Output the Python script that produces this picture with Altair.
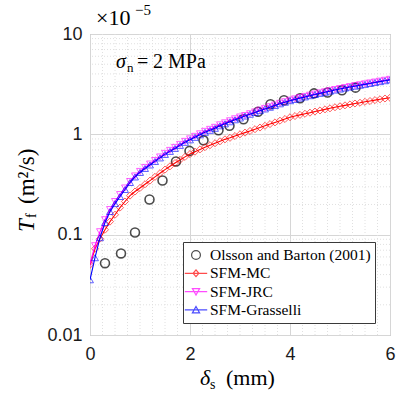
import altair as alt
import pandas as pd

# ---------------- data ----------------
x_model = [i / 10 for i in range(61)]  # model sample positions, 0.1 mm apart

mc = [0.0501, 0.0724, 0.0912, 0.112, 0.135, 0.158, 0.186, 0.214, 0.245, 0.269,
      0.292, 0.318, 0.346, 0.377, 0.410, 0.445, 0.480, 0.517, 0.556, 0.596,
      0.636, 0.672, 0.708, 0.745, 0.779, 0.815, 0.852, 0.891, 0.923, 0.962,
      1.000, 1.040, 1.081, 1.125, 1.169, 1.216, 1.265, 1.315, 1.368, 1.422,
      1.479, 1.521, 1.563, 1.603, 1.644, 1.687, 1.730, 1.774, 1.816, 1.862,
      1.905, 1.945, 1.986, 2.028, 2.065, 2.109, 2.148, 2.193, 2.234, 2.275,
      2.317]

jrc = [0.0513, 0.0776, 0.107, 0.141, 0.178, 0.214, 0.251, 0.292, 0.339, 0.385,
       0.427, 0.468, 0.506, 0.549, 0.595, 0.646, 0.692, 0.741, 0.794, 0.851,
       0.901, 0.955, 1.012, 1.071, 1.121, 1.175, 1.244, 1.303, 1.365, 1.428,
       1.489, 1.539, 1.604, 1.672, 1.743, 1.813, 1.884, 1.959, 2.038, 2.114,
       2.189, 2.255, 2.324, 2.388, 2.456, 2.525, 2.590, 2.655, 2.724, 2.794,
       2.859, 2.926, 2.993, 3.056, 3.120, 3.186, 3.253, 3.320, 3.390, 3.461,
       3.533]

grasselli = [0.0355, 0.0589, 0.0933, 0.132, 0.170, 0.204, 0.240, 0.282, 0.331, 0.376,
             0.417, 0.457, 0.495, 0.537, 0.582, 0.631, 0.676, 0.724, 0.776, 0.832,
             0.881, 0.933, 0.989, 1.047, 1.096, 1.148, 1.216, 1.274, 1.334, 1.396,
             1.455, 1.521, 1.585, 1.652, 1.722, 1.791, 1.862, 1.936, 2.014, 2.089,
             2.163, 2.228, 2.296, 2.360, 2.427, 2.495, 2.559, 2.624, 2.692, 2.761,
             2.825, 2.891, 2.958, 3.020, 3.083, 3.148, 3.214, 3.281, 3.350, 3.420,
             3.491]

obs_x = [0.30, 0.62, 0.90, 1.19, 1.45, 1.72, 1.99, 2.27, 2.57, 2.79,
         3.07, 3.36, 3.61, 3.88, 4.20, 4.48, 4.75, 5.04, 5.31]
obs_y = [0.052, 0.065, 0.105, 0.224, 0.347, 0.537, 0.684, 0.871, 1.096, 1.216,
         1.413, 1.679, 1.995, 2.188, 2.291, 2.56, 2.61, 2.75, 2.92]

series_labels = ["Olsson and Barton (2001)", "SFM-MC", "SFM-JRC", "SFM-Grasselli"]
series_colors = ["#000000", "#ff0000", "#ff00ff", "#0000ff"]

x_ticks = [0, 2, 4, 6]
y_ticks = [0.01, 0.1, 1, 10]
x_minor = [0.25, 0.5, 0.75, 1.0, 1.25, 1.5, 1.75, 2.25, 2.5, 2.75, 3.0, 3.25,
           3.5, 3.75, 4.25, 4.5, 4.75, 5.0, 5.25, 5.5, 5.75]
y_minor = [0.02, 0.03, 0.04, 0.05, 0.06, 0.07, 0.08, 0.09,
           0.2, 0.3, 0.4, 0.5, 0.6, 0.7, 0.8, 0.9,
           2, 3, 4, 5, 6, 7, 8, 9]

# legend symbols: line segment + open marker (paths wider than the unit box)
legend_paths = [
    "M-0.55,0A0.55,0.55 0 1 0 0.55,0A0.55,0.55 0 1 0 -0.55,0Z",
    "M-1.4,0H1.4M0,-0.42L0.36,0L0,0.42L-0.36,0Z",
    "M-1.4,0H1.4M-0.45,-0.38L0.45,-0.38L0,0.42Z",
    "M-1.4,0H1.4M0,-0.42L0.45,0.38L-0.45,0.38Z",
]

SERIF = "Liberation Serif"
SANS = "Liberation Sans"

# ---------------- scales / encodings ----------------
xs = alt.Scale(domain=[0, 6], nice=False, zero=False)
ys = alt.Scale(type="log", domain=[0.01, 10], nice=False)

X = alt.X("x:Q", scale=xs, axis=alt.Axis(values=x_ticks, format="d", title=None,
                                           labelFlush=False, labelPadding=10, ticks=False,
                                           domain=False, gridColor="#d6d6d6",
                                           labelFont=SANS, labelFontSize=18, labelColor="#1a1a1a"))
Y = alt.Y("y:Q", scale=ys, axis=alt.Axis(values=y_ticks, format=".2~f", title=None,
                                           labelFlush=False, labelPadding=8, ticks=False,
                                           domain=False, gridColor="#d6d6d6",
                                           labelFont=SANS, labelFontSize=18, labelColor="#1a1a1a"))

model_df = pd.DataFrame({"x": x_model, "mc": mc, "jrc": jrc, "gr": grasselli})
obs_df = pd.DataFrame({"x": obs_x, "y": obs_y})

grid_x = alt.Chart(pd.DataFrame({"x": x_minor})).mark_rule(
    color="#e0e0e0", strokeDash=[1, 2], strokeWidth=1).encode(x=X)
grid_y = alt.Chart(pd.DataFrame({"y": y_minor})).mark_rule(
    color="#e0e0e0", strokeDash=[1, 2], strokeWidth=1).encode(y=Y)

obs_layer = alt.Chart(obs_df).mark_point(
    shape="circle", size=80, filled=False, color="#000000", strokeWidth=1.6, clip=True
).encode(x=X, y=Y)


def model_layers(col, color, shape, size):
    base = alt.Chart(model_df).transform_calculate(y=f"datum.{col}")
    line = base.mark_line(color=color, strokeWidth=1.1, clip=True).encode(x=X, y=Y)
    pts = base.mark_point(shape=shape, size=size, filled=False, color=color,
                          strokeWidth=0.9, clip=True).encode(x=X, y=Y)
    return [line, pts]


leg = alt.Legend(title=None, orient="none", legendX=93, legendY=208,
                 fillColor="white", strokeColor="#3a3a3a", padding=4,
                 symbolSize=256, symbolStrokeWidth=1.2, labelOffset=5,
                 labelFont=SERIF, labelFontSize=15.5, labelColor="black",
                 rowPadding=0.3, labelLimit=400)

legend_layer = alt.Chart(pd.DataFrame({"series": series_labels})).mark_point(
    filled=False, size=256, strokeWidth=1.2
).encode(
    shape=alt.Shape("series:N", scale=alt.Scale(domain=series_labels, range=legend_paths), legend=leg),
    color=alt.Color("series:N", scale=alt.Scale(domain=series_labels, range=series_colors), legend=leg),
).transform_filter("false")


def txt(s, x, y, size, angle=0, style="normal", baseline="alphabetic", font=SERIF):
    kw = dict(fontSize=size, font=font, align="left", baseline=baseline,
              color="black", fontStyle=style)
    if angle:
        kw["angle"] = angle
    return alt.Chart(pd.DataFrame({"t": [s]})).mark_text(**kw).encode(
        text="t:N", x=alt.value(x), y=alt.value(y))


texts = [
    # exponent above the y axis
    txt("×10", 6, -9, 22),
    txt("−5", 45, -19, 15),
    # sigma_n annotation
    txt("σ", 26, 34, 20, style="italic"),
    txt("n", 37, 38, 13),
    txt("=", 47, 34, 20),
    txt("2 MPa", 63, 34, 20),
    # x axis title
    txt("δ", 110, 351, 22, style="italic"),
    txt("s", 120, 355, 14),
    txt("(mm)", 136, 351, 22),
    # y axis title (rotated)
    txt("T", -63, 198, 23, angle=270, style="italic", baseline="middle"),
    txt("f", -58, 184, 14, angle=270, baseline="middle"),
    txt("(m²/s)", -63, 170, 23, angle=270, baseline="middle"),
]

layers = [grid_x, grid_y, obs_layer]
layers += model_layers("mc", "#ff0000", "diamond", 50)
layers += model_layers("jrc", "#ff00ff", "triangle-down", 48)
layers += model_layers("gr", "#0000ff", "triangle-up", 48)
layers += [legend_layer] + texts

chart = alt.layer(*layers).properties(
    width=300, height=301,
    autosize=alt.AutoSizeParams(type="none"),
    padding={"left": 90, "top": 34, "right": 6, "bottom": 62},
    background="white",
).configure_view(stroke="#a0a0a0", strokeWidth=1)

chart.save("out.html", embed_options={"renderer": "svg", "actions": False})
